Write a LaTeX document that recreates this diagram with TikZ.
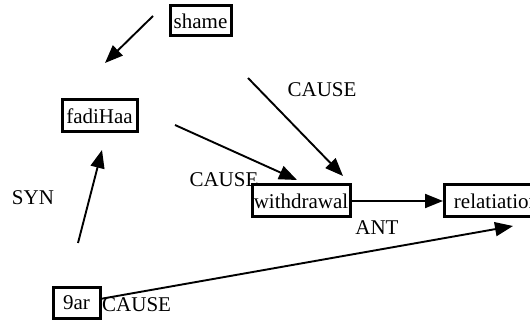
\documentclass[tikz,border=0pt]{standalone}
\usepackage{fontspec}
\setmainfont{Liberation Serif}
\usetikzlibrary{arrows.meta}
\begin{document}
\begin{tikzpicture}[x=1pt,y=-1pt,
  every node/.style={font=\fontsize{21}{23}\selectfont},
  term/.style={draw, line width=3pt, inner sep=0pt},
  rel/.style={inner sep=0pt},
  link/.style={line width=1.9pt, -{Triangle[length=18pt,width=14pt]}}]
\useasboundingbox (0,0) rectangle (530,320);
\fill[white] (0,0) rectangle (530,320);

% concept boxes
\node[term, minimum width=61pt, minimum height=30pt] (shame) at (200.5,21) {shame};
\node[term, minimum width=75pt, minimum height=32pt] (fadi) at (99.5,116) {fadiHaa};
\node[term, minimum width=98pt, minimum height=32pt] (withdrawal) at (301,201) {withdrawal};
\node[term, minimum width=104pt, minimum height=32pt, anchor=west] (relatiation) at (443,201) {relatiation};
\node[term, minimum width=47pt, minimum height=30pt] (ninear) at (76.5,303) {9ar};

% relation labels
\node[rel] (lsyn) at (33,198) {SYN};
\node[rel] (lcause1) at (322,90) {CAUSE};
\node[rel] (lcause2) at (224,180) {CAUSE};
\node[rel] (lant) at (377,228) {ANT};
\node[rel, anchor=west] (lcause3) at (102,305) {CAUSE};

% connector end points
\coordinate (a1) at (153,16);  \coordinate (b1) at (105,63);
\coordinate (a2) at (78,243);  \coordinate (b2) at (102,150);
\coordinate (a3) at (175,125); \coordinate (b3) at (297,180);
\coordinate (a4) at (248,78);  \coordinate (b4) at (343,176);
\coordinate (a6) at (100,299); \coordinate (b6) at (513,226);

% connectors
\draw[link] (a1) -- (b1);
\draw[link] (a2) -- (b2);
\draw[link] (a3) -- (b3);
\draw[link] (a4) -- (b4);
\draw[link] (withdrawal.east) -- (relatiation.west);
\draw[link] (a6) -- (b6);
\end{tikzpicture}
\end{document}
